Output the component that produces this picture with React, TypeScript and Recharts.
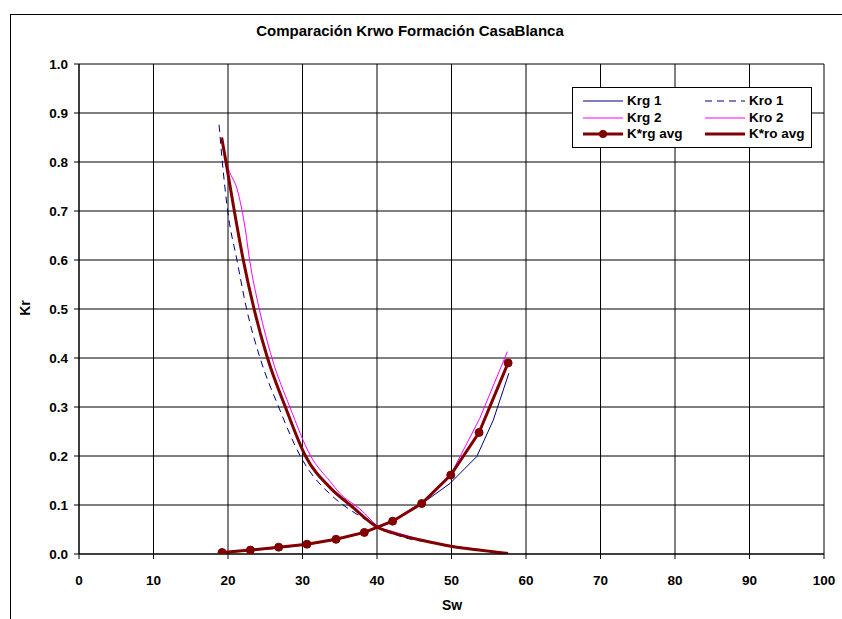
import { LineChart, Line, XAxis, YAxis, CartesianGrid } from 'recharts'

const FONT = '"Liberation Sans", Arial, Helvetica, sans-serif'
const NAVY = '#000080'
const MAGENTA = '#ff00ff'
const MAROON = '#800000'

const xTicks = [0, 10, 20, 30, 40, 50, 60, 70, 80, 90, 100]
const yTicks = [0, 0.1, 0.2, 0.3, 0.4, 0.5, 0.6, 0.7, 0.8, 0.9, 1.0]

// Krg 1
const swKrg1 = [19.2, 23.0, 26.8, 30.6, 34.5, 38.3, 42.1, 46.7, 49.8, 53.4, 55.6, 57.7]
const krg1 = [0.003, 0.008, 0.012, 0.019, 0.029, 0.043, 0.066, 0.11, 0.144, 0.199, 0.273, 0.369]

// Kro 1
const swKro1 = [18.8, 19.24, 19.96, 21.2, 22.5, 24.3, 26.8, 29.7, 34.3, 36.4, 38.6, 40.4, 44.0, 47.1, 49.9, 53.7, 57.6]
const kro1 = [0.876, 0.8, 0.7, 0.6, 0.5, 0.4, 0.3, 0.2, 0.114, 0.09, 0.069, 0.054, 0.032, 0.024, 0.016, 0.008, 0.001]

// Krg 2
const swKrg2 = [19.2, 23.0, 26.8, 30.6, 34.5, 38.3, 42.1, 46.2, 50.0, 53.8, 57.5]
const krg2 = [0.002, 0.007, 0.012, 0.02, 0.03, 0.045, 0.068, 0.107, 0.165, 0.277, 0.413]

// Kro 2
const swKro2 = [19.2, 19.8, 21.4, 22.3, 22.9, 24.2, 25.9, 28.3, 31.1, 33.7, 35.0, 37.7, 40.4, 42.1, 46.0, 49.9, 53.7, 57.6]
const kro2 = [0.845, 0.8, 0.735, 0.665, 0.6, 0.5, 0.4, 0.3, 0.2, 0.148, 0.124, 0.092, 0.054, 0.046, 0.029, 0.017, 0.009, 0.001]

// K*rg avg
const swKrgAvg = [19.2, 23.0, 26.8, 30.6, 34.5, 38.3, 42.1, 46.0, 49.9, 53.7, 57.6]
const krgAvg = [0.003, 0.008, 0.014, 0.02, 0.03, 0.044, 0.067, 0.103, 0.161, 0.248, 0.39]

// K*ro avg
const swKroAvg = [19.15, 19.73, 20.85, 22.05, 23.5, 25.3, 27.7, 30.4, 33.8, 36.4, 40.4, 42.1, 46.0, 49.9, 53.7, 57.6]
const kroAvg = [0.85, 0.8, 0.7, 0.6, 0.5, 0.4, 0.3, 0.2, 0.134, 0.1, 0.052, 0.043, 0.028, 0.016, 0.008, 0.001]

const toPoints = (sw: number[], kr: number[]) => sw.map((x, i) => ({ sw: x, kr: kr[i] }))

const tickStyle = { fill: '#000', fontSize: 13.5, fontWeight: 700, fontFamily: FONT }

interface LegendItem {
  label: string
  color: string
  width: number
  dash?: string
  marker?: boolean
}

const legendRows: LegendItem[][] = [
  [
    { label: 'Krg 1', color: NAVY, width: 1 },
    { label: 'Kro 1', color: NAVY, width: 1, dash: '7 5' },
  ],
  [
    { label: 'Krg 2', color: MAGENTA, width: 1 },
    { label: 'Kro 2', color: MAGENTA, width: 1 },
  ],
  [
    { label: 'K*rg avg', color: MAROON, width: 3, marker: true },
    { label: 'K*ro avg', color: MAROON, width: 3 },
  ],
]

function LegendEntry({ item, width }: { item: LegendItem; width: number }) {
  return (
    <div style={{ display: 'flex', alignItems: 'center', width, height: 16.5, flexShrink: 0 }}>
      <svg width={42} height={12} style={{ marginRight: 3, flexShrink: 0 }}>
        <line x1={1} y1={6} x2={41} y2={6} stroke={item.color} strokeWidth={item.width} strokeDasharray={item.dash} />
        {item.marker && <circle cx={21} cy={6} r={4} fill={item.color} />}
      </svg>
      <span style={{ fontSize: 13.5, fontWeight: 700, lineHeight: '16px', whiteSpace: 'nowrap' }}>{item.label}</span>
    </div>
  )
}

export default function App() {
  return (
    <div
      style={{
        position: 'absolute',
        left: 0,
        top: 0,
        width: 842,
        height: 619,
        overflow: 'hidden',
        background: '#fff',
        fontFamily: FONT,
        color: '#000',
      }}
    >
      {/* chart frame, runs off the right and bottom edges */}
      <div
        style={{
          position: 'absolute',
          left: 10,
          top: 14,
          width: 900,
          height: 700,
          border: '1px solid #000',
        }}
      />

      <div
        style={{
          position: 'absolute',
          left: 210,
          top: 22,
          width: 400,
          textAlign: 'center',
          fontSize: 15,
          fontWeight: 700,
        }}
      >
        Comparación Krwo Formación CasaBlanca
      </div>

      <LineChart
        width={842}
        height={619}
        margin={{ top: 64, right: 18, bottom: 5, left: 19 }}
        style={{ position: 'absolute', left: 0, top: 0 }}
      >
        <CartesianGrid stroke="#000" strokeWidth={1} horizontalValues={yTicks} verticalValues={xTicks} />
        <XAxis
          type="number"
          dataKey="sw"
          domain={[0, 100]}
          ticks={xTicks}
          interval={0}
          height={60}
          tickSize={5}
          tickMargin={16}
          stroke="#000"
          tick={tickStyle}
          allowDataOverflow
        />
        <YAxis
          type="number"
          dataKey="kr"
          domain={[0, 1]}
          ticks={yTicks}
          interval={0}
          width={60}
          tickSize={5}
          tickMargin={6}
          stroke="#000"
          tick={tickStyle}
          tickFormatter={(v: number) => v.toFixed(1)}
          allowDataOverflow
        />
        <Line
          data={toPoints(swKrg1, krg1)}
          dataKey="kr"
          name="Krg 1"
          type="linear"
          stroke={NAVY}
          strokeWidth={1}
          dot={false}
          activeDot={false}
          isAnimationActive={false}
        />
        <Line
          data={toPoints(swKro1, kro1)}
          dataKey="kr"
          name="Kro 1"
          type="monotone"
          stroke={NAVY}
          strokeWidth={1}
          strokeDasharray="7 5"
          dot={false}
          activeDot={false}
          isAnimationActive={false}
        />
        <Line
          data={toPoints(swKrg2, krg2)}
          dataKey="kr"
          name="Krg 2"
          type="linear"
          stroke={MAGENTA}
          strokeWidth={1}
          dot={false}
          activeDot={false}
          isAnimationActive={false}
        />
        <Line
          data={toPoints(swKro2, kro2)}
          dataKey="kr"
          name="Kro 2"
          type="monotone"
          stroke={MAGENTA}
          strokeWidth={1}
          dot={false}
          activeDot={false}
          isAnimationActive={false}
        />
        <Line
          data={toPoints(swKroAvg, kroAvg)}
          dataKey="kr"
          name="K*ro avg"
          type="monotone"
          stroke={MAROON}
          strokeWidth={3}
          dot={false}
          activeDot={false}
          isAnimationActive={false}
        />
        <Line
          data={toPoints(swKrgAvg, krgAvg)}
          dataKey="kr"
          name="K*rg avg"
          type="linear"
          stroke={MAROON}
          strokeWidth={3}
          dot={{ r: 4, fill: MAROON, stroke: MAROON, strokeWidth: 1 }}
          activeDot={false}
          isAnimationActive={false}
        />
      </LineChart>

      {/* axis titles */}
      <div
        style={{
          position: 'absolute',
          left: 5,
          top: 300,
          width: 40,
          textAlign: 'center',
          fontSize: 14,
          fontWeight: 700,
          transform: 'rotate(-90deg)',
        }}
      >
        Kr
      </div>
      <div
        style={{
          position: 'absolute',
          left: 422,
          top: 597,
          width: 60,
          textAlign: 'center',
          fontSize: 14,
          fontWeight: 700,
        }}
      >
        Sw
      </div>

      <div
        style={{
          position: 'absolute',
          left: 572,
          top: 87,
          width: 240,
          height: 61,
          border: '1px solid #000',
          background: '#fff',
          padding: '0 0 0 9px',
          boxSizing: 'border-box',
          display: 'flex',
          flexDirection: 'column',
          justifyContent: 'center',
        }}
      >
        {legendRows.map((row, r) => (
          <div key={r} style={{ display: 'flex' }}>
            <LegendEntry item={row[0]} width={122} />
            <LegendEntry item={row[1]} width={105} />
          </div>
        ))}
      </div>
    </div>
  )
}
